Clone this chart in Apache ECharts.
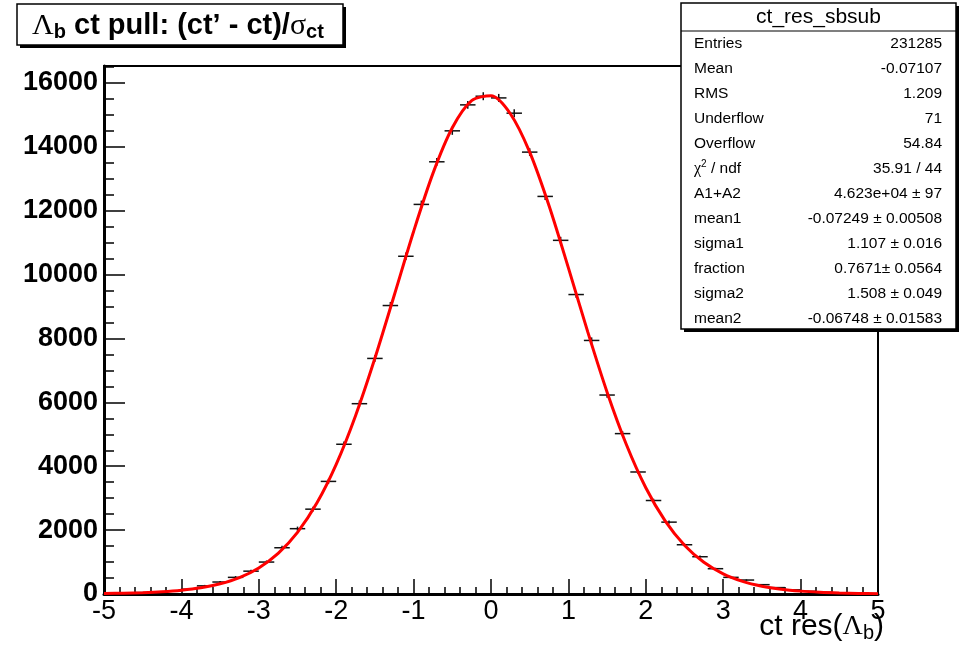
<!DOCTYPE html>
<html>
<head>
<meta charset="utf-8">
<script src="https://cdn.jsdelivr.net/npm/echarts@6/dist/echarts.min.js"></script>
<style>
html,body{margin:0;padding:0;background:#fff;}
#chart{width:971px;height:646px;}
</style>
</head>
<body>
<div id="chart"></div>
<script>
// ---- data ----
const binCenters = [-4.9,-4.7,-4.5,-4.3,-4.1,-3.9,-3.7,-3.5,-3.3,-3.1,-2.9,-2.7,-2.5,-2.3,-2.1,-1.9,-1.7,-1.5,-1.3,-1.1,-0.9,-0.7,-0.5,-0.3,-0.1,0.1,0.3,0.5,0.7,0.9,1.1,1.3,1.5,1.7,1.9,2.1,2.3,2.5,2.7,2.9,3.1,3.3,3.5,3.7,3.9,4.1,4.3,4.5,4.7,4.9];
const binWidth = 0.2;
const counts = [15,30,45,65,100,150,255,375,521,715,1000,1448,2045,2656,3525,4688,5958,7375,9031,10573,12197,13531,14500,15313,15584,15531,15053,13834,12447,11072,9375,7938,6229,5021,3820,2927,2250,1542,1167,792,521,437,292,200,130,85,55,35,22,12];
const errors = [12,15,18,20,22,25,30,35,40,45,50,60,65,75,80,90,100,105,110,115,120,120,125,125,125,125,125,120,115,110,100,95,85,75,65,55,50,40,35,30,25,22,20,16,14,12,10,8,7,6];
const fitX = [-5,-4.75,-4.5,-4.25,-4,-3.75,-3.5,-3.25,-3,-2.75,-2.5,-2.25,-2,-1.75,-1.5,-1.25,-1,-0.75,-0.5,-0.25,0,0.25,0.5,0.75,1,1.25,1.5,1.75,2,2.25,2.5,2.75,3,3.25,3.5,3.75,4,4.25,4.5,4.75,5];
const fitY = [14,25,42,71,119,196,320,515,817,1271,1930,2846,4059,5583,7379,9352,11350,13168,14595,15444,15598,15035,13834,12156,10210,8206,6319,4673,3328,2290,1527,992,631,395,244,149,90,54,32,18,10];
const xTicks = [-5,-4,-3,-2,-1,0,1,2,3,4,5];
const yTickLabels = [0,2000,4000,6000,8000,10000,12000,14000,16000];
const yMax = 16530;
const statsTitle = 'ct_res_sbsub';
const statsLabels = ['Entries','Mean','RMS','Underflow','Overflow','{g|χ}{sup|2}{t| / ndf}','A1+A2','mean1','sigma1','fraction','sigma2','mean2'];
const statsValues = ['231285','-0.07107','1.209','71','54.84','35.91 / 44','4.623e+04 ± 97','-0.07249 ± 0.00508','1.107 ± 0.016','0.7671± 0.0564','1.508 ± 0.049','-0.06748 ± 0.01583'];

// ---- chart ----
const chart = echarts.init(document.getElementById('chart'), null, {renderer:'canvas'});
const SANS = 'Liberation Sans, Arial, Helvetica, sans-serif';
const SERIF = 'Liberation Serif, DejaVu Serif, serif';

const graphics = [];
// title box
graphics.push({type:'rect', z:100, shape:{x:20,y:7,width:326,height:41}, style:{fill:'#000'}});
graphics.push({type:'rect', z:101, shape:{x:17,y:4,width:326,height:41}, style:{fill:'#fff', stroke:'#000', lineWidth:1.5}});
graphics.push({type:'text', z:102, style:{
  x:32, y:26, verticalAlign:'middle', align:'left',
  text:'{g|Λ}{s|b}{m| ct pull: (ct’ - ct)/}{g|σ}{s|ct}',
  rich:{
    m:{fontFamily:SANS, fontWeight:'bold', fontSize:29, lineHeight:32, fill:'#000'},
    g:{fontFamily:SERIF, fontSize:30, lineHeight:32, fill:'#000'},
    s:{fontFamily:SANS, fontWeight:'bold', fontSize:20, lineHeight:16, verticalAlign:'bottom', fill:'#000'}
  }
}});
// stats box
const sx = 681, sy = 3, sw = 275, sh = 326;
graphics.push({type:'rect', z:100, shape:{x:sx+3,y:sy+3,width:sw,height:sh}, style:{fill:'#000'}});
graphics.push({type:'rect', z:101, shape:{x:sx,y:sy,width:sw,height:sh}, style:{fill:'#fff', stroke:'#000', lineWidth:1.5}});
graphics.push({type:'line', z:102, shape:{x1:sx,y1:31,x2:sx+sw,y2:31}, style:{stroke:'#000', lineWidth:1.2}});
graphics.push({type:'text', z:102, style:{x:sx+sw/2, y:17, align:'center', verticalAlign:'middle', text:statsTitle, fontFamily:SANS, fontSize:21, fill:'#000'}});
statsLabels.forEach((lab, i) => {
  const y = 44 + i*25;
  graphics.push({type:'text', z:102, style:{x:694, y:y, align:'left', verticalAlign:'middle', text: lab.indexOf('{')===0 ? lab : '{t|'+lab+'}',
    rich:{
      t:{fontFamily:SANS, fontSize:15.5, lineHeight:20, fill:'#000'},
      g:{fontFamily:SERIF, fontSize:16, lineHeight:20, fill:'#000'},
      sup:{fontFamily:SANS, fontSize:10, lineHeight:10, verticalAlign:'top', fill:'#000'}
    }}});
  graphics.push({type:'text', z:102, style:{x:942, y:y, align:'right', verticalAlign:'middle', text:statsValues[i], fontFamily:SANS, fontSize:15.5, fill:'#000'}});
});
// x axis title
graphics.push({type:'text', z:102, style:{
  x:884, y:627, align:'right', verticalAlign:'middle',
  text:'{m|ct res(}{g|Λ}{s|b}{m|)}',
  rich:{
    m:{fontFamily:SANS, fontSize:30, lineHeight:32, fill:'#000'},
    g:{fontFamily:SERIF, fontSize:28, lineHeight:32, fill:'#000'},
    s:{fontFamily:SANS, fontSize:20, lineHeight:16, verticalAlign:'bottom', fill:'#000'}
  }
}});

const option = {
  animation:false,
  backgroundColor:'#fff',
  grid:{left:104, right:93, top:66, bottom:52, show:true, borderColor:'#000', borderWidth:2, backgroundColor:'transparent'},
  xAxis:{
    type:'value', min:xTicks[0], max:xTicks[xTicks.length-1], interval:1,
    axisLine:{show:true, onZero:false, lineStyle:{color:'#000', width:3}},
    axisTick:{show:true, inside:true, length:15, lineStyle:{color:'#000', width:1.5}},
    minorTick:{show:true, splitNumber:5, length:7, lineStyle:{color:'#000', width:1.5}},
    splitLine:{show:false}, minorSplitLine:{show:false},
    axisLabel:{color:'#000', fontSize:27, fontFamily:SANS, margin:4, formatter: v => xTicks.indexOf(v) >= 0 ? String(v) : ''}
  },
  yAxis:[{
    type:'value', min:0, max:yMax, interval:2000, position:'left',
    axisLine:{show:true, onZero:false, lineStyle:{color:'#000', width:3}},
    axisTick:{show:true, inside:true, length:21, lineStyle:{color:'#000', width:1.5}},
    splitLine:{show:false},
    axisLabel:{color:'#000', fontSize:27, fontWeight:'bold', fontFamily:SANS, margin:6,
      formatter: v => yTickLabels.indexOf(v) >= 0 ? String(v) : ''}
  },{
    type:'value', min:0, max:yMax, interval:500, position:'left', offset:0,
    axisLine:{show:false, onZero:false},
    axisTick:{show:true, inside:true, length:10, lineStyle:{color:'#000', width:1.5}},
    splitLine:{show:false}, axisLabel:{show:false}
  }],
  graphic:graphics,
  series:[{
    type:'custom', z:2, yAxisIndex:0,
    data: binCenters.map((x,i)=>[x, counts[i], errors[i]]),
    renderItem:(params, api) => {
      const x = api.value(0), y = api.value(1), e = api.value(2);
      const a = api.coord([x - binWidth/2, y]), b = api.coord([x + binWidth/2, y]);
      const t = api.coord([x, y + e]), u = api.coord([x, Math.max(0, y - e)]);
      return {type:'group', children:[
        {type:'line', shape:{x1:a[0], y1:a[1], x2:b[0], y2:b[1]}, style:{stroke:'#111', lineWidth:1.5}},
        {type:'line', shape:{x1:t[0], y1:t[1], x2:u[0], y2:u[1]}, style:{stroke:'#111', lineWidth:1.5}}
      ]};
    }
  },{
    type:'line', z:3, yAxisIndex:0,
    data: fitX.map((x,i)=>[x, fitY[i]]),
    smooth:0.3, showSymbol:false, symbol:'none',
    lineStyle:{color:'#ff0000', width:3}
  }]
};
chart.setOption(option);
</script>
</body>
</html>
